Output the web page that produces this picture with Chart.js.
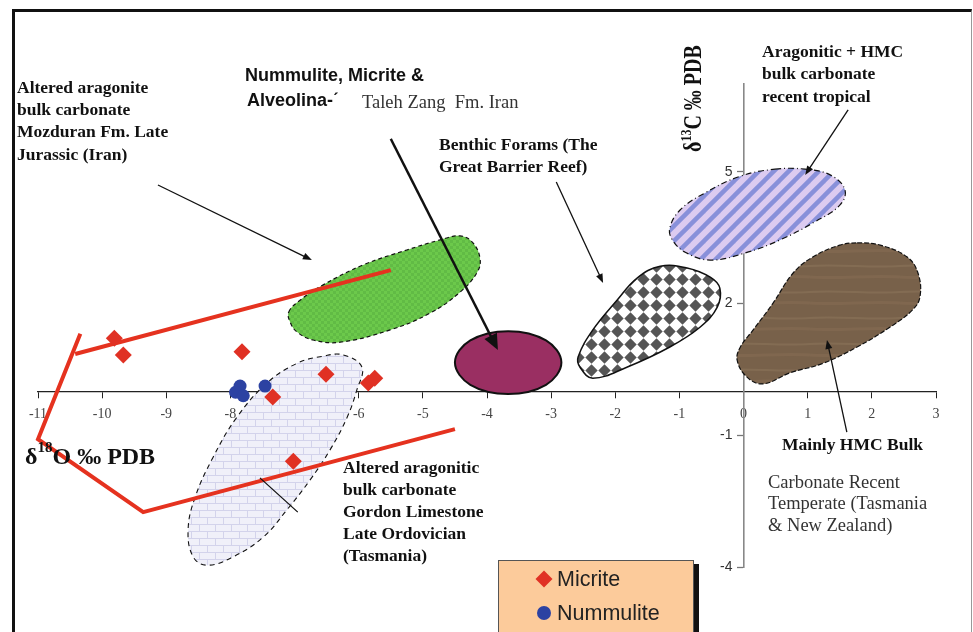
<!DOCTYPE html>
<html>
<head>
<meta charset="utf-8">
<script src="https://cdn.jsdelivr.net/npm/chart.js@4.4.1/dist/chart.umd.min.js"></script>
<style>
  html, body { margin:0; padding:0; background:#fff; }
  #wrap { position:relative; width:973px; height:632px; overflow:hidden; }
  #frame { position:absolute; left:12px; top:9px; width:956px; height:640px;
           border-left:3px solid #111; border-top:3px solid #111; border-right:1px solid #999;
           pointer-events:none; }
</style>
</head>
<body>
<div id="wrap">
  <canvas id="chart" width="973" height="632"></canvas>
  <div id="frame"></div>
</div>
<script>
// ===== DATA =====
const micriteX = [-9.81, -9.67, -7.82, -7.34, -7.02, -6.51, -5.85, -5.75];
const micriteY = [ 1.21,  0.83,  0.90, -0.13, -1.59,  0.39,  0.19,  0.30];

const nummuliteX = [-7.85, -7.92, -7.80, -7.46];
const nummuliteY = [ 0.12, -0.02, -0.10,  0.12];

const xTicks = [-11, -10, -9, -8, -7, -6, -5, -4, -3, -2, -1, 0, 1, 2, 3];
const yTicks = [5, 2, -1, -4];

// red boundary lines
const redLineA = [[-10.34, 1.31], [-11.0, -1.09], [-9.36, -2.75], [-4.50, -0.86]];
const redLineB = [[-10.42, 0.85], [-5.50, 2.76]];

// field outlines (x, y), closed loops
const fieldMozduran = [[-7.09,1.81],[-6.91,2.08],[-6.56,2.42],[-5.93,2.88],[-5.25,3.22],[-4.73,3.45],
  [-4.42,3.54],[-4.23,3.40],[-4.11,3.04],[-4.15,2.72],[-4.42,2.26],[-4.89,1.78],[-5.51,1.40],
  [-6.29,1.12],[-6.71,1.17],[-6.96,1.35],[-7.07,1.58]];
const fieldGordon = [[-6.24,0.83],[-5.95,0.55],[-6.03,0.03],[-6.18,-0.59],[-6.45,-1.34],[-6.76,-2.02],
  [-7.12,-2.70],[-7.49,-3.32],[-7.96,-3.77],[-8.36,-3.96],[-8.58,-3.77],[-8.66,-3.16],[-8.55,-2.41],
  [-8.27,-1.50],[-7.90,-0.59],[-7.43,0.19],[-6.96,0.64],[-6.56,0.80]];
const fieldTalehZang = [[-2.84,0.655],[-3.08,1.16],[-3.67,1.37],[-4.26,1.16],[-4.50,0.655],
  [-4.26,0.15],[-3.67,-0.06],[-3.08,0.15]];
const fieldBenthic = [[-1.30,2.85],[-0.88,2.81],[-0.52,2.60],[-0.37,2.35],[-0.41,1.92],[-0.68,1.46],
  [-1.15,1.01],[-1.82,0.55],[-2.35,0.30],[-2.55,0.55],[-2.58,0.78],[-2.35,1.40],[-1.97,2.08],
  [-1.66,2.58]];
const fieldTropical = [[0.49,5.06],[0.96,5.06],[1.35,4.93],[1.58,4.59],[1.50,4.24],[1.11,3.86],
  [0.57,3.45],[0.02,3.15],[-0.52,2.99],[-0.91,3.17],[-1.11,3.45],[-1.15,3.72],[-0.99,4.13],
  [-0.60,4.52],[-0.05,4.90]];
const fieldTemperate = [[1.77,3.38],[2.13,3.33],[2.55,3.06],[2.72,2.69],[2.75,2.15],[2.63,1.85],
  [2.28,1.46],[1.77,1.01],[1.24,0.64],[0.72,0.42],[0.30,0.17],[0.05,0.33],[-0.10,0.71],[-0.05,1.01],
  [0.15,1.40],[0.46,2.01],[0.77,2.69],[1.08,3.06],[1.50,3.33]];

// annotation arrows: [x1, y1, x2, y2]
const arrowMozduran  = [-9.13, 4.70, -6.73, 2.99];
const arrowTaleh     = [-5.50, 5.75, -3.83, 0.94];
const arrowBenthic   = [-2.92, 4.77, -2.19, 2.47];
const arrowTropical  = [ 1.63, 6.41,  0.96, 4.93];
const arrowTemperate = [ 1.61, -0.93, 1.30, 1.17];
const lineGordon     = [-7.54, -1.97, -6.95, -2.75];

// ===== FONTS =====
const SERIF = '"Liberation Serif", "Times New Roman", serif';
const SANS = '"Liberation Sans", Arial, sans-serif';

// ===== TEXT LAYOUT (pixels) =====
const notes = [
  { lines:['Altered aragonite','bulk carbonate','Mozduran Fm. Late','Jurassic (Iran)'], x:17, y:88, lh:22.4, font:'bold 17.5px '+SERIF, color:'#111' },
  { lines:['Nummulite, Micrite &'], x:245, y:76, lh:0, font:'bold 18px '+SANS, color:'#111' },
  { lines:['Alveolina-ˊ'], x:247, y:101, lh:0, font:'bold 18px '+SANS, color:'#111' },
  { lines:['Taleh Zang  Fm. Iran'], x:362, y:103, lh:0, font:'18.5px '+SERIF, color:'#333' },
  { lines:['Benthic Forams (The','Great Barrier Reef)'], x:439, y:145, lh:22, font:'bold 17.5px '+SERIF, color:'#111' },
  { lines:['Aragonitic + HMC','bulk carbonate','recent tropical'], x:762, y:52, lh:22.5, font:'bold 17.5px '+SERIF, color:'#111' },
  { lines:['Altered aragonitic','bulk carbonate','Gordon Limestone','Late Ordovician','(Tasmania)'], x:343, y:468, lh:22.2, font:'bold 17.5px '+SERIF, color:'#111' },
  { lines:['Mainly HMC Bulk'], x:782, y:445, lh:0, font:'bold 17.5px '+SERIF, color:'#111' },
  { lines:['Carbonate Recent','Temperate (Tasmania','& New Zealand)'], x:768, y:483, lh:21.5, font:'18.5px '+SERIF, color:'#333' }
];

// ===== PATTERNS =====
function makePattern(w, h, draw){
  const c = document.createElement('canvas');
  c.width = w; c.height = h;
  const g = c.getContext('2d');
  draw(g, w, h);
  return g.createPattern(c, 'repeat');
}

const greenFill = makePattern(6, 6, (g) => {
  g.fillStyle = '#6cc94b'; g.fillRect(0, 0, 6, 6);
  g.fillStyle = '#61bb45'; g.fillRect(0, 0, 3, 3); g.fillRect(3, 3, 3, 3);
});
const brickFill = makePattern(16, 14, (g) => {
  g.fillStyle = '#d3d3eb'; g.fillRect(0, 0, 16, 14);
  g.fillStyle = '#f0f0f9';
  g.fillRect(0, 0, 15, 6); g.fillRect(8, 7, 15, 6); g.fillRect(-8, 7, 15, 6);
});
const checkFill = makePattern(13, 13, (g) => {
  g.fillStyle = '#fff'; g.fillRect(0, 0, 13, 13);
  g.fillStyle = '#555';
  g.beginPath();
  g.moveTo(6.5, 0.3); g.lineTo(12.7, 6.5); g.lineTo(6.5, 12.7); g.lineTo(0.3, 6.5);
  g.closePath(); g.fill();
});
const stripeFill = makePattern(15, 15, (g) => {
  g.fillStyle = '#dccbf0'; g.fillRect(0, 0, 15, 15);
  g.strokeStyle = '#8890da'; g.lineWidth = 4.5;
  [[-15, 15, 15, -15], [0, 15, 15, 0], [0, 30, 30, 0]].forEach(l => {
    g.beginPath(); g.moveTo(l[0], l[1]); g.lineTo(l[2], l[3]); g.stroke();
  });
});
const woodFill = makePattern(90, 26, (g) => {
  g.fillStyle = '#78614a'; g.fillRect(0, 0, 90, 26);
  g.strokeStyle = 'rgba(160,135,105,0.30)'; g.lineWidth = 2;
  g.beginPath(); g.moveTo(0, 6); g.bezierCurveTo(30, 4, 60, 8, 90, 6); g.stroke();
  g.strokeStyle = 'rgba(150,125,95,0.25)'; g.lineWidth = 3;
  g.beginPath(); g.moveTo(0, 17); g.bezierCurveTo(30, 19, 60, 15, 90, 17); g.stroke();
});

// ===== DATASETS =====
const toPts = (xs, ys) => xs.map((x, i) => ({ x: x, y: ys[i] }));
const pairPts = arr => arr.map(p => ({ x: p[0], y: p[1] }));

function field(label, pts, fill, dash, width, tension){
  return {
    label: label, data: pairPts(pts), showLine: true, fill: 'shape',
    backgroundColor: fill, borderColor: '#111', borderWidth: width, borderDash: dash,
    tension: tension, pointRadius: 0, order: 10
  };
}
function redLine(pts){
  return {
    label: 'line', data: pairPts(pts), showLine: true, fill: false,
    borderColor: '#e5321f', borderWidth: 4, pointRadius: 0, tension: 0, clip: false, order: 5
  };
}

const datasets = [
  { label:'Nummulite', data: toPts(nummuliteX, nummuliteY), pointStyle:'circle', pointRadius:6.5,
    backgroundColor:'#2c42a2', borderColor:'#2c42a2', borderWidth:0, order:0 },
  { label:'Micrite', data: toPts(micriteX, micriteY), pointStyle:'rectRot', pointRadius:8.5,
    backgroundColor:'#e03124', borderColor:'#e03124', borderWidth:0, order:1 },
  redLine(redLineA),
  redLine(redLineB),
  field('Mozduran', fieldMozduran, greenFill, [4, 3], 1.2, 0.4),
  field('Gordon', fieldGordon, brickFill, [5, 4], 1.1, 0.4),
  field('Taleh Zang', fieldTalehZang, '#9a2f62', [], 2, 0.38),
  field('Benthic', fieldBenthic, checkFill, [], 1.5, 0.4),
  field('Tropical', fieldTropical, stripeFill, [6, 3, 1, 3], 1.2, 0.4),
  field('Temperate', fieldTemperate, woodFill, [5, 2], 1.2, 0.4)
];

// ===== CLOSE FIELD OUTLINES =====
const closeShapes = {
  id: 'closeShapes',
  afterDatasetsUpdate(chart){
    chart.data.datasets.forEach((ds, i) => {
      if (ds.fill !== 'shape') return;
      const line = chart.getDatasetMeta(i).dataset;
      if (!line) return;
      line._loop = true;
      line._fullLoop = true;
      line._pointsUpdated = false;
      delete line._segments;
      delete line._path;
    });
  }
};

// ===== DRAW HELPERS =====
function drawArrow(ctx, x1, y1, x2, y2, lw, head, hw){
  const a = Math.atan2(y2 - y1, x2 - x1);
  ctx.save();
  ctx.strokeStyle = '#111'; ctx.fillStyle = '#111'; ctx.lineWidth = lw;
  ctx.beginPath(); ctx.moveTo(x1, y1);
  ctx.lineTo(x2 - Math.cos(a) * head * 0.7, y2 - Math.sin(a) * head * 0.7); ctx.stroke();
  if (head){
    ctx.beginPath();
    ctx.moveTo(x2, y2);
    ctx.lineTo(x2 - head * Math.cos(a) + hw * Math.sin(a), y2 - head * Math.sin(a) - hw * Math.cos(a));
    ctx.lineTo(x2 - head * Math.cos(a) - hw * Math.sin(a), y2 - head * Math.sin(a) + hw * Math.cos(a));
    ctx.closePath(); ctx.fill();
  }
  ctx.restore();
}

const overlay = {
  id: 'overlay',
  afterDatasetsDraw(chart){
    const ctx = chart.ctx, xs = chart.scales.x, ys = chart.scales.y;
    const px = (a) => [xs.getPixelForValue(a[0]), ys.getPixelForValue(a[1]), xs.getPixelForValue(a[2]), ys.getPixelForValue(a[3])];
    let p;
    p = px(arrowMozduran);  drawArrow(ctx, p[0], p[1], p[2], p[3], 1.3, 9, 3.5);
    p = px(arrowTaleh);     drawArrow(ctx, p[0], p[1], p[2], p[3], 2.4, 16, 7);
    p = px(arrowBenthic);   drawArrow(ctx, p[0], p[1], p[2], p[3], 1.3, 9, 3.5);
    p = px(arrowTropical);  drawArrow(ctx, p[0], p[1], p[2], p[3], 1.3, 9, 3.5);
    p = px(arrowTemperate); drawArrow(ctx, p[0], p[1], p[2], p[3], 1.3, 9, 3.5);
    p = px(lineGordon);     drawArrow(ctx, p[0], p[1], p[2], p[3], 1.3, 0, 0);
  },
  afterDraw(chart){
    const ctx = chart.ctx, xs = chart.scales.x, ys = chart.scales.y;
    ctx.save();

    // y tick labels
    const x0 = xs.getPixelForValue(0);
    ctx.font = '14px ' + SANS; ctx.fillStyle = '#333';
    ctx.textAlign = 'right'; ctx.textBaseline = 'middle';
    yTicks.forEach(v => ctx.fillText(String(v), x0 - 11, ys.getPixelForValue(v)));

    // notes
    ctx.textAlign = 'left'; ctx.textBaseline = 'middle';
    notes.forEach(n => {
      ctx.font = n.font; ctx.fillStyle = n.color;
      n.lines.forEach((t, i) => ctx.fillText(t, n.x, n.y + i * n.lh));
    });

    // x axis title: δ18O ‰ PDB
    ctx.textBaseline = 'alphabetic'; ctx.fillStyle = '#111';
    let cx = 25;
    ctx.font = 'bold 24px ' + SERIF; ctx.fillText('δ', cx, 464); cx += ctx.measureText('δ').width;
    ctx.font = 'bold 15px ' + SERIF; ctx.fillText('18', cx, 452); cx += ctx.measureText('18').width;
    ctx.font = 'bold 24px ' + SERIF; ctx.fillText('O ‰ PDB', cx, 464);

    // y axis title: δ13C ‰ PDB (vertical)
    ctx.save();
    ctx.translate(701, 152);
    ctx.rotate(-Math.PI / 2);
    ctx.scale(1, 1.25);
    cx = 0;
    ctx.font = 'bold 20px ' + SERIF; ctx.fillText('δ', cx, 0); cx += ctx.measureText('δ').width;
    ctx.font = 'bold 12px ' + SERIF; ctx.fillText('13', cx, -8); cx += ctx.measureText('13').width;
    ctx.font = 'bold 20px ' + SERIF; ctx.fillText('C ‰ PDB', cx, 0);
    ctx.restore();

    // legend box
    ctx.fillStyle = '#111'; ctx.fillRect(694, 564, 5, 80);
    ctx.fillStyle = '#fccb9b'; ctx.fillRect(498.5, 560.5, 195, 80);
    ctx.strokeStyle = '#555'; ctx.lineWidth = 1; ctx.strokeRect(498.5, 560.5, 195, 80);
    const items = ['Micrite', 'Nummulite'];
    items.forEach((name, i) => {
      const ds = chart.data.datasets.find(d => d.label === name);
      const y = 579 + i * 34;
      ctx.fillStyle = ds.backgroundColor;
      Chart.helpers.drawPoint(ctx, { pointStyle: ds.pointStyle, radius: ds.pointStyle === 'circle' ? 7 : 8.5, rotation: 0, borderWidth: 0 }, 544, y);
      ctx.fillStyle = '#222'; ctx.font = '21.5px ' + SANS;
      ctx.textAlign = 'left'; ctx.textBaseline = 'middle';
      ctx.fillText(name, 557, y + 1);
    });

    ctx.restore();
  }
};

// ===== CHART =====
new Chart(document.getElementById('chart'), {
  type: 'scatter',
  data: { datasets: datasets },
  options: {
    responsive: false,
    animation: false,
    events: [],
    layout: { padding: { left: 38, right: 37, top: 84, bottom: 65 } },
    plugins: { legend: { display: false }, tooltip: { enabled: false } },
    scales: {
      x: {
        type: 'linear', min: -11, max: 3, position: { y: 0 }, z: 1,
        afterBuildTicks: s => { s.ticks = xTicks.map(v => ({ value: v })); },
        grid: { drawOnChartArea: false, drawTicks: true, tickLength: 6, tickColor: '#222', tickWidth: 1 },
        border: { display: true, color: '#222', width: 1.3 },
        ticks: { font: { family: SERIF, size: 14 }, color: '#444', padding: 9, maxRotation: 0, autoSkip: false }
      },
      y: {
        type: 'linear', min: -4, max: 7, position: { x: 0 }, z: 1,
        afterBuildTicks: s => { s.ticks = yTicks.map(v => ({ value: v })); },
        grid: { drawOnChartArea: false, drawTicks: true, tickLength: 6, tickColor: '#777', tickWidth: 1.3 },
        border: { display: true, color: '#888', width: 1.6 },
        ticks: { display: false }
      }
    }
  },
  plugins: [closeShapes, overlay]
});
</script>
</body>
</html>
